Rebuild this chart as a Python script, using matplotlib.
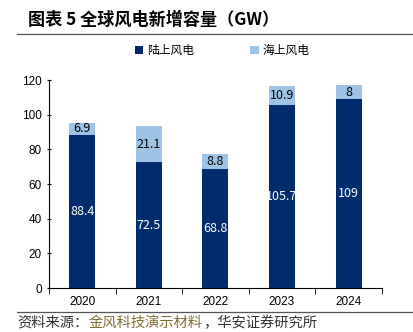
import matplotlib
matplotlib.use("Agg")

import matplotlib.pyplot as plt
import numpy as np
from matplotlib.lines import Line2D

plt.rcParams["font.family"] = ["Noto Sans CJK SC", "DejaVu Sans"]

years = ["2020", "2021", "2022", "2023", "2024"]
onshore = [88.4, 72.5, 68.8, 105.7, 109]
offshore = [6.9, 21.1, 8.8, 10.9, 8]
onshore_labels = ["88.4", "72.5", "68.8", "105.7", "109"]
offshore_labels = ["6.9", "21.1", "8.8", "10.9", "8"]

dark = "#002C6E"
light = "#9DC3E6"

fig = plt.figure(figsize=(4.13, 3.32), dpi=100)
ax = fig.add_axes([0.1186, 0.1325, 0.806, 0.6265])

x = np.arange(len(years))
ax.bar(x, onshore, width=0.39, color=dark, label="陆上风电")
ax.bar(x, offshore, width=0.39, bottom=onshore, color=light, label="海上风电")

for i in range(len(years)):
    ax.text(x[i], onshore[i] / 2, onshore_labels[i], ha="center", va="center",
            color="white", fontsize=9)
    ax.text(x[i], onshore[i] + offshore[i] / 2, offshore_labels[i], ha="center",
            va="center", color="black", fontsize=9)

ax.set_xlim(-0.5, len(years) - 0.5)
ax.set_ylim(0, 120)
ax.set_yticks(range(0, 121, 20))
ax.set_xticks(x)
ax.set_xticklabels(years, fontsize=8.5)
ax.set_xticks(np.arange(-0.5, len(years), 1), minor=True)
ax.tick_params(axis="x", which="major", length=0, pad=6)
ax.tick_params(axis="x", which="minor", length=4, direction="out", color="black")
ax.tick_params(axis="y", labelsize=8.5, length=3, direction="inout", color="black")
for label in ax.get_yticklabels() + ax.get_xticklabels():
    label.set_fontfamily("Liberation Sans")
ax.spines["top"].set_visible(False)
ax.spines["right"].set_visible(False)
ax.spines["left"].set_color("black")
ax.spines["bottom"].set_color("black")

ax.legend(loc="upper center", bbox_to_anchor=(0.52, 1.225), ncol=2, frameon=False,
          fontsize=8.5, handlelength=0.7, handleheight=0.7, columnspacing=4.8,
          handletextpad=0.3)

fig.text(0.068, 0.94, "图表 5 全球风电新增容量（GW）", fontsize=12.3, fontweight="bold",
         va="center", ha="left")
fig.add_artist(Line2D([0.042, 1.0], [0.897, 0.897], color="#555555", linewidth=0.9))
fig.add_artist(Line2D([0.042, 1.0], [0.06, 0.06], color="#555555", linewidth=0.9))

src_y = 0.028
t1 = fig.text(0.042, src_y, "资料来源：", fontsize=10.3, color="#333333", va="center")
fig.canvas.draw()
bb = t1.get_window_extent()
x2 = bb.x1 / fig.bbox.width
t2 = fig.text(x2, src_y, "金风科技演示材料", fontsize=10.3, color="#7F6F2E", va="center")
fig.canvas.draw()
bb = t2.get_window_extent()
x3 = bb.x1 / fig.bbox.width
fig.text(x3, src_y, "，华安证券研究所", fontsize=10.3, color="#333333", va="center")

fig.savefig("out.png", dpi=100)
